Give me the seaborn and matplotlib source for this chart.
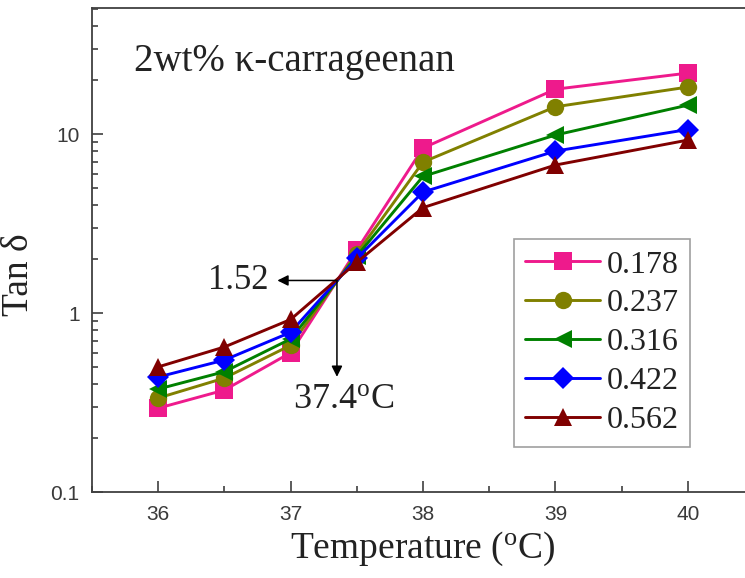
import numpy as np
import pandas as pd
import matplotlib
matplotlib.use("Agg")
import matplotlib.pyplot as plt
from matplotlib.lines import Line2D
from matplotlib.ticker import FixedLocator, LogLocator, NullFormatter, MultipleLocator
import seaborn as sns

# ---- data ----
temperature = [36, 36.5, 37, 37.5, 38, 39, 40]
labels = ["0.178", "0.237", "0.316", "0.422", "0.562"]
tan_0178 = [0.294, 0.371, 0.60, 2.25, 8.35, 17.8, 21.9]
tan_0237 = [0.335, 0.433, 0.66, 2.15, 6.97, 14.2, 18.3]
tan_0316 = [0.376, 0.47, 0.716, 2.08, 5.8, 9.87, 14.5]
tan_0422 = [0.439, 0.546, 0.78, 2.02, 4.74, 8.03, 10.6]
tan_0562 = [0.50, 0.646, 0.92, 1.92, 3.88, 6.71, 9.25]
series = [tan_0178, tan_0237, tan_0316, tan_0422, tan_0562]
yticks = [0.1, 1, 10]
yticklabels = ["0.1", "1", "10"]
xticks = [36, 37, 38, 39, 40]
cross_T, cross_val = 37.35, 1.52

colors = {"0.178": "#ee1a8c", "0.237": "#808000", "0.316": "#008000",
          "0.422": "#0000ff", "0.562": "#800000"}
markers = {"0.178": "s", "0.237": "o", "0.316": "<", "0.422": "D", "0.562": "^"}
msizes = {"0.178": 12.5, "0.237": 12.5, "0.316": 12.5, "0.422": 11.5, "0.562": 12.5}

df = pd.concat([pd.DataFrame({"T": temperature, "tan": s, "freq": lab})
                for s, lab in zip(series, labels)], ignore_index=True)

sns.set_theme(style="ticks")
plt.rcParams["font.family"] = ["Liberation Serif", "DejaVu Serif"]
plt.rcParams["mathtext.fontset"] = "custom"
plt.rcParams["mathtext.rm"] = "Liberation Serif"
plt.rcParams["mathtext.it"] = "Liberation Serif:italic"
plt.rcParams["mathtext.bf"] = "Liberation Serif:bold"

fig = plt.figure(figsize=(7.45, 5.78), dpi=100)
ax = fig.add_axes([92 / 745, 1 - 492 / 578, (754 - 92) / 745, 484 / 578])

sns.lineplot(data=df, x="T", y="tan", hue="freq", style="freq",
             hue_order=labels, style_order=labels, palette=colors,
             markers=markers, dashes=False, markersize=12, linewidth=2.1,
             markeredgewidth=0, ax=ax, legend=False)
for line in ax.lines:
    c = matplotlib.colors.to_hex(line.get_color())
    for lab in labels:
        if matplotlib.colors.to_hex(colors[lab]) == c:
            line.set_markersize(msizes[lab])

ax.set_yscale("log")
ax.set_ylim(0.1, 50.6)
ax.set_xlim(35.5, 40.5)
ax.yaxis.set_major_locator(FixedLocator(yticks))
ax.set_yticklabels(yticklabels)
ax.yaxis.set_minor_locator(LogLocator(base=10, subs=np.arange(2, 10)))
ax.yaxis.set_minor_formatter(NullFormatter())
ax.set_xticks(xticks)
ax.set_xticklabels([str(t) for t in xticks])
ax.xaxis.set_minor_locator(MultipleLocator(0.5))

ax.tick_params(which="both", direction="in", color="#404040", width=1.2)
ax.tick_params(which="major", length=7.7, labelsize=15, labelcolor="#3a3a3a")
ax.tick_params(which="minor", length=4.3)
ax.tick_params(axis="x", pad=9)
ax.tick_params(axis="y", pad=9)
for lbl in ax.get_xticklabels() + ax.get_yticklabels():
    lbl.set_fontfamily(["Liberation Sans", "DejaVu Sans"])
for sp in ax.spines.values():
    sp.set_color("#404040")
    sp.set_linewidth(1.3)

ax.set_xlabel("Temperature ($\\rm^{o}$C)", fontsize=27, color="#222222")
ax.set_ylabel("Tan δ", fontsize=27, color="#222222")
ax.xaxis.set_label_coords(0.5, -0.078)
ax.yaxis.set_label_coords(-0.085, 0.45)

fig.text(134 / 745, 1 - 62 / 578, "2wt% κ-carrageenan", fontsize=28,
         va="center", ha="left", color="#222222")

# annotations
arrow_kw = dict(arrowstyle="-|>", color="black", lw=1.1, mutation_scale=16,
                shrinkA=0, shrinkB=0)
ax.annotate("", xy=(36.9, cross_val), xytext=(cross_T, cross_val), arrowprops=arrow_kw)
ax.annotate("", xy=(cross_T, 0.44), xytext=(cross_T, cross_val), arrowprops=arrow_kw)
ax.text(36.83, cross_val, "1.52", ha="right", va="center", fontsize=25, color="#222222")
ax.text(37.02, 0.327, "37.4$\\rm^{o}$C", ha="left", va="center", fontsize=26, color="#222222")

handles = [Line2D([0], [0], color=colors[l], marker=markers[l], markersize=msizes[l],
                  markeredgewidth=0, linewidth=2.1) for l in labels]
leg = ax.legend(handles, labels, loc="upper right",
                bbox_to_anchor=(690 / 745, 1 - 239 / 578), bbox_transform=fig.transFigure,
                fontsize=23, frameon=True, fancybox=False, handlelength=2.35,
                handletextpad=0.2, labelspacing=0.3, borderpad=0.35,
                borderaxespad=0, numpoints=1)
leg.get_frame().set_edgecolor("#888888")
leg.get_frame().set_linewidth(1.2)
for t in leg.get_texts():
    t.set_color("#222222")

fig.savefig("out.png", dpi=100)
